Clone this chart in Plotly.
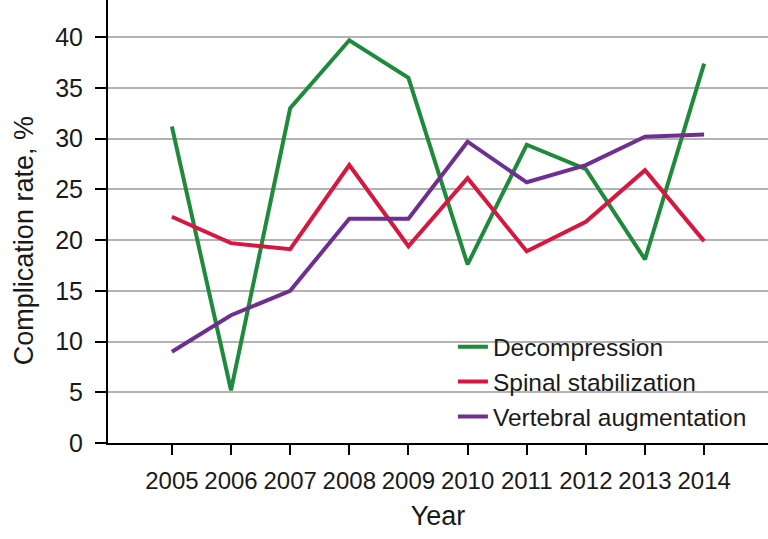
import plotly.graph_objects as go

years = [2005, 2006, 2007, 2008, 2009, 2010, 2011, 2012, 2013, 2014]
decompression = [31.2, 5.2, 33.0, 39.7, 36.0, 17.6, 29.4, 27.0, 18.1, 37.4]
spinal_stabilization = [22.3, 19.7, 19.1, 27.4, 19.4, 26.1, 18.9, 21.8, 26.9, 19.9]
vertebral_augmentation = [9.0, 12.6, 15.0, 22.1, 22.1, 29.7, 25.7, 27.4, 30.2, 30.4]
y_ticks = [0, 5, 10, 15, 20, 25, 30, 35, 40]

series = [
    ("Decompression", decompression, "#1f8a3b"),
    ("Spinal stabilization", spinal_stabilization, "#d7173f"),
    ("Vertebral augmentation", vertebral_augmentation, "#6e2f90"),
]

FONT = "Liberation Sans, Arial, Helvetica, sans-serif"
TXT = "#1a1a1a"

fig = go.Figure()
for i, (name, vals, color) in enumerate(series):
    fig.add_trace(go.Scatter(
        x=years, y=vals, name=name, mode="lines",
        line=dict(color=color, width=4),
        legendgroup=f"g{i}",
    ))

fig.add_annotation(
    text="Complication rate, %", textangle=-90,
    xref="paper", yref="paper", x=-0.127, y=0.456,
    xanchor="center", yanchor="middle", showarrow=False,
    font=dict(size=27, family=FONT, color=TXT),
)

fig.update_layout(
    width=768, height=539,
    margin=dict(l=108, r=0, t=0, b=96, autoexpand=False),
    paper_bgcolor="white", plot_bgcolor="white",
    font=dict(family=FONT, color=TXT, size=22),
    showlegend=True,
    legend=dict(
        x=0.5226, y=0.268, xanchor="left", yanchor="top",
        bgcolor="rgba(0,0,0,0)", borderwidth=0,
        font=dict(size=24.5, family=FONT, color=TXT),
        tracegroupgap=0, itemwidth=30,
    ),
    xaxis=dict(
        range=[2003.92, 2015.08], automargin=False,
        tickmode="array", tickvals=years, ticktext=[str(y) for y in years],
        showgrid=False, zeroline=False,
        showline=True, linecolor="black", linewidth=2,
        ticks="outside", ticklen=10, tickwidth=1.5, tickcolor="black",
        tickfont=dict(size=24, family=FONT, color=TXT),
        ticklabelstandoff=5,
        title=dict(text="Year", font=dict(size=27, family=FONT, color=TXT), standoff=13),
    ),
    yaxis=dict(
        range=[0, 43.67], automargin=False,
        tickmode="array", tickvals=y_ticks,
        showgrid=True, gridcolor="#b3b3b3", gridwidth=1.5,
        zeroline=False,
        showline=True, linecolor="black", linewidth=2,
        ticks="outside", ticklen=11, tickwidth=1.5, tickcolor="black",
        tickfont=dict(size=25, family=FONT, color=TXT),
        ticklabelstandoff=7,
    ),
)

fig.write_html("out.html", config={"displayModeBar": False},
               post_script="document.body.style.margin='0';")
